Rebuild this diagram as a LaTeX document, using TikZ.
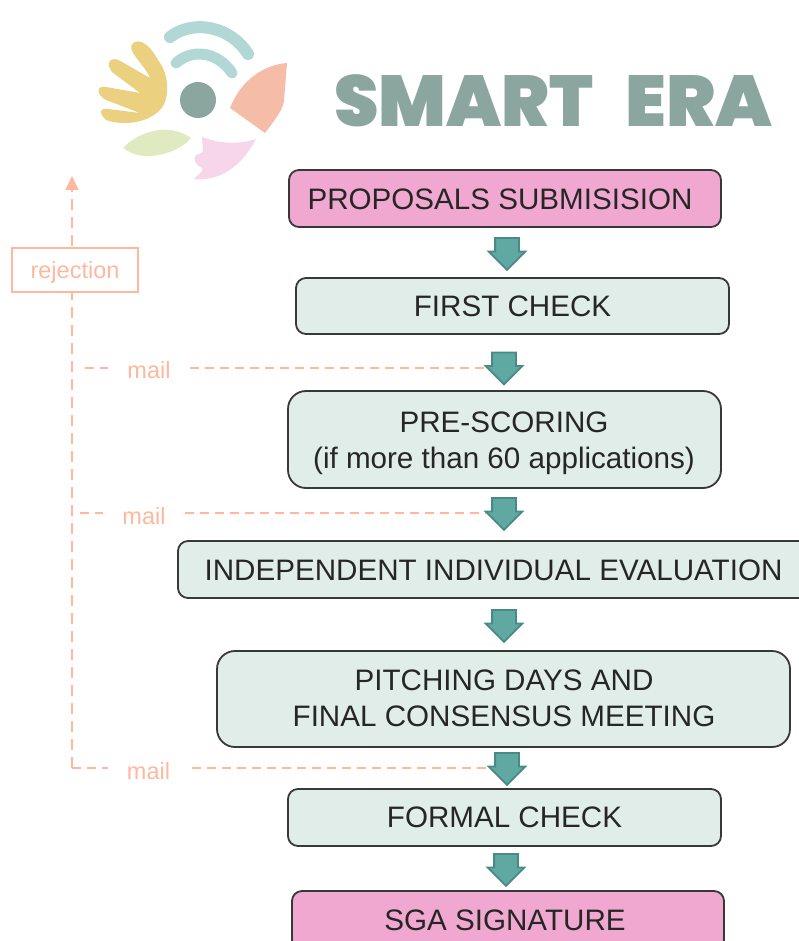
\documentclass[tikz,border=0pt]{standalone}
\usepackage{fontspec}
\setmainfont{Liberation Sans}
\newfontfamily\logofont{Poppins Black}
\usetikzlibrary{arrows.meta, positioning, shapes.arrows, backgrounds}
\definecolor{boxgreen}{HTML}{E0EDE8}
\definecolor{boxpink}{HTML}{F0A8D0}
\definecolor{boxline}{HTML}{383838}
\definecolor{arrowfill}{HTML}{5FA9A2}
\definecolor{arrowline}{HTML}{4A8A85}
\definecolor{rejline}{HTML}{FFB89E}
\definecolor{logogrey}{HTML}{8BA69E}
\definecolor{logoteal}{HTML}{B1D8D4}
\definecolor{logoyellow}{HTML}{EBD07F}
\definecolor{logosalmon}{HTML}{F5BCA8}
\definecolor{logoleaf}{HTML}{DFEAC0}
\definecolor{logopink}{HTML}{F6D6E8}
\tikzset{
    stagebox/.style={draw=boxline, line width=1.8pt, rounded corners=10pt, fill=boxgreen, inner sep=0pt},
    stagetext/.style={align=center, font=\fontsize{29.6}{36.5}\selectfont, text=black!85, inner sep=0pt},
    downarrow/.style={single arrow, shape border rotate=270, draw=arrowline, line width=1.8pt, fill=arrowfill, minimum height=32pt, text width=22pt, single arrow head extend=6.5pt, inner sep=0pt},
    rejtext/.style={font=\fontsize{23.5}{28}\selectfont, text=rejline, inner sep=0pt},
    mailgap/.style={rejtext, fill=white, minimum width=82pt, minimum height=20pt},
    rejpath/.style={draw=rejline, line width=1.6pt, dash pattern=on 11pt off 7pt},
    mailpath/.style={draw=rejline, line width=1.6pt, dash pattern=on 9pt off 6pt},
    logotext/.style={font=\logofont\fontsize{72}{76}\selectfont, text=logogrey, inner sep=0pt, anchor=base west}
}
\newcommand{\drawS}[6][]{
    \node[stagebox, #1, minimum width=#4 pt, minimum height=#5 pt] (#6) at (#2,#3) {};
}
\newcommand{\drawT}[4]{
    \node[stagetext] (#4) at (#1,#2) {#3};
}
\newcommand{\drawA}[3]{
    \node[downarrow] (#3) at (#1,#2) {};
}
\begin{document}
\begin{tikzpicture}[x=1pt, y=-1pt]
    \path[use as bounding box, clip] (0,0) rectangle (799,941);

    % Logo
        \draw[logoteal, line width=12pt, line cap=round] (170,37) .. controls (195,18) and (232,28) .. (248,54);
        \draw[logoteal, line width=11pt, line cap=round] (176,63) .. controls (193,48) and (218,52) .. (232,73);
        \fill[logogrey] (198,100) circle (18);
        \fill[logosalmon] (287,63) .. controls (262,65) and (240,82) .. (230,108) -- (265,133) .. controls (275,120) and (284,108) .. (284,100) -- cycle;
        \fill[logoyellow] (133,43) .. controls (140,38) and (150,45) .. (158,60) .. controls (170,75) and (170,100) .. (160,110)
            .. controls (145,125) and (120,125) .. (106,120) .. controls (98,112) and (100,108) .. (108,109) -- (140,113)
            -- (106,100) .. controls (96,95) and (96,85) .. (106,87) -- (140,93)
            -- (112,72) .. controls (104,62) and (112,55) .. (122,62) -- (150,78)
            .. controls (145,65) and (125,50) .. (133,43) -- cycle;
        \fill[logoleaf] (123,148) .. controls (135,135) and (165,120) .. (191,138) .. controls (180,152) and (145,165) .. (123,148) -- cycle;
        \fill[logopink] (202,137) .. controls (215,142) and (235,146) .. (256,139) .. controls (245,160) and (225,182) .. (194,179)
            .. controls (198,174) and (204,172) .. (202,168) .. controls (196,166) and (192,158) .. (196,155) .. controls (200,154) and (204,152) .. (203,150) -- cycle;
        \node[logotext] (logosmart) at (334,127) {\scalebox{0.99}[1]{SMART}};
        \node[logotext] (logoera) at (625,127) {\scalebox{1.02}[1]{ERA}};

    % Stages
        \drawS[fill=boxpink]{505}{198.5}{432}{57}{submit}
        \drawS{512.5}{306}{433}{56}{first}
        \drawS[rounded corners=18pt]{504.5}{439.5}{433}{97}{score}
        \drawS{495}{569.5}{634}{57}{indep}
        \drawS[rounded corners=18pt]{503.5}{699}{573}{96}{pitch}
        \drawS{504.5}{817.5}{433}{57}{formal}
        \drawS[fill=boxpink]{508}{920.5}{432}{59}{sign}
        \drawT{500}{199}{PROPOSALS SUBMISISION}{submittext}
        \drawT{512.5}{306}{FIRST CHECK}{firsttext}
        \drawT{504}{443}{PRE-SCORING\\(if more than 60 applications)}{scoretext}
        \drawT{493.5}{570.5}{INDEPENDENT INDIVIDUAL EVALUATION}{indeptext}
        \drawT{504}{698.5}{PITCHING DAYS AND\\FINAL CONSENSUS MEETING}{pitchtext}
        \drawT{504.5}{817.5}{FORMAL CHECK}{formaltext}
        \drawT{505}{920}{SGA SIGNATURE}{signtext}

    % Arrows
        \drawA{507}{248}{stepa}
        \drawA{504}{362.5}{stepb}
        \drawA{504}{508}{stepc}
        \drawA{504}{620}{stepd}
        \drawA{507}{763}{stepe}
        \drawA{506}{864}{stepf}

    % Rejection path
        \coordinate (cornb) at (85,368);
        \coordinate (cornc) at (80,513);
        \coordinate (corne) at (72,768);
        \coordinate (top) at (72,176);
        \begin{scope}[on background layer]
            \path[mailpath] (cornb) -- (stepb |- cornb);
            \path[mailpath] (cornc) -- (stepc |- cornc);
            \path[mailpath] (corne) -- (stepe |- corne);
            \path[rejpath] (corne) -- (top);
        \end{scope}
        \draw[rejline, line width=1.6pt, -{Triangle[length=14pt,width=13pt]}] (72,190) -- (top);
        \node[mailgap] (mailb) at (149,370) {mail};
        \node[mailgap] (mailc) at (144,516) {mail};
        \node[mailgap] (maile) at (148.5,771) {mail};
        \node[rejtext, text depth=0pt, draw=rejline, line width=1.6pt, fill=white, minimum width=126pt, minimum height=44pt] (reject) at (75,270) {rejection};
\end{tikzpicture}
\end{document}
